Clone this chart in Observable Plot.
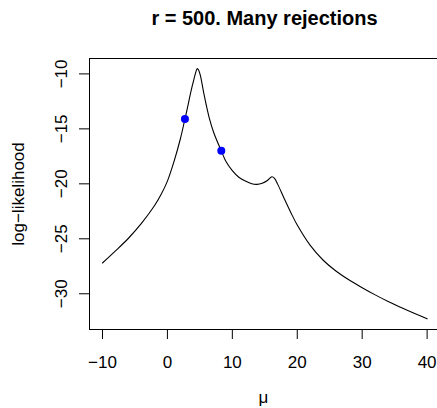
<!DOCTYPE html>
<html><head><meta charset="utf-8">
<script src="https://cdn.jsdelivr.net/npm/d3@7"></script>
<script src="https://cdn.jsdelivr.net/npm/@observablehq/plot@0.6"></script>
<style>
html,body{margin:0;padding:0;background:#fff;overflow:hidden}
#wrap{position:relative;width:437px;height:408px}
#title{position:absolute;left:89px;width:351px;top:7px;line-height:20px;text-align:center;font:bold 20px "Liberation Sans",Arial,sans-serif;color:#000}
#chart{position:absolute;left:0;top:0}
</style></head><body>
<div id="wrap"><div id="chart"></div><div id="title">r = 500. Many rejections</div></div>
<script>
const mu = [-10,-8,-6,-4,-2,-1,0,1,2,2.7,3.1,3.6,4.1,4.4,4.6,4.8,5.1,5.6,6.4,7.2,8.3,9,10,11,12,13,13.8,14.6,15.4,16.1,16.5,17,18,19,20,22,24,26,28,30,32,34,36,38,40];
const loglik = [-27.2,-26.1,-24.95,-23.6,-22.0,-21.0,-19.75,-18.0,-15.9,-14.1,-13.05,-11.65,-10.45,-9.8,-9.52,-9.65,-10.2,-11.75,-13.9,-15.45,-17.0,-17.95,-18.8,-19.4,-19.75,-20.0,-20.05,-19.95,-19.7,-19.35,-19.5,-20.05,-21.35,-22.6,-23.75,-25.6,-26.95,-27.95,-28.75,-29.45,-30.1,-30.7,-31.25,-31.78,-32.28];
const pointMu = [2.7, 8.3];
const pointLL = [-14.1, -17.0];
const xTicks = [-10, 0, 10, 20, 30, 40];
const yTicks = [-30, -25, -20, -15, -10];
const xDomain = [-12, 41.6];
const yDomain = [-33.25, -8.6];

const curve = mu.map((m, i) => ({mu: m, ll: loglik[i]}));
const pts = pointMu.map((m, i) => ({mu: m, ll: pointLL[i]}));

const chart = Plot.plot({
  width: 437, height: 408,
  marginLeft: 89, marginRight: 0, marginTop: 58, marginBottom: 79,
  style: {fontFamily: '"Liberation Sans", Arial, sans-serif', fontSize: "17px", color: "#000", background: "#fff", overflow: "visible"},
  x: {domain: xDomain},
  y: {domain: yDomain},
  marks: [
    Plot.axisX(xTicks, {tickSize: 10, tickPadding: 16, label: "μ", labelAnchor: "center", labelOffset: 73, labelArrow: "none"}),
    Plot.axisY(yTicks, {tickSize: 10, tickPadding: 13, tickRotate: -90, label: "log−likelihood", labelAnchor: "center", labelOffset: 78, labelArrow: "none"}),
    Plot.ruleY([yDomain[0], yDomain[1]], {stroke: "#000", strokeWidth: 1}),
    Plot.ruleX([xDomain[0]], {stroke: "#000", strokeWidth: 1}),
    Plot.line(curve, {x: "mu", y: "ll", stroke: "#000", strokeWidth: 1.1, curve: "catmull-rom"}),
    Plot.dot(pts, {x: "mu", y: "ll", r: 4, fill: "#0000ff", stroke: "none"})
  ]
});
document.getElementById("chart").appendChild(chart);
</script>
</body></html>
